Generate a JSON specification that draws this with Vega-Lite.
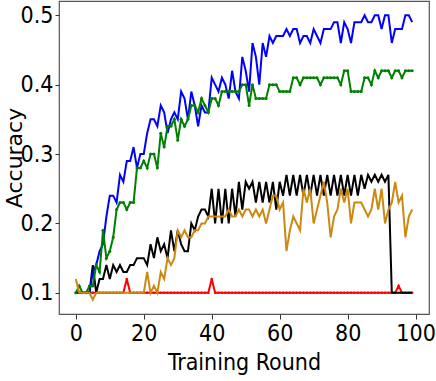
{
 "$schema": "https://vega.github.io/schema/vega-lite/v6.json",
 "width": 370, "height": 313,
 "autosize": {"type": "none"},
 "padding": {"left": 59, "top": 1, "right": 7, "bottom": 67},
 "background": "white",
 "config": {
  "view": {"stroke": "#555555", "strokeWidth": 1.2},
  "axis": {"grid": false, "domain": false, "labelFont": "DejaVu Sans Condensed", "labelFontSize": 23, "labelColor": "black", "tickColor": "#333333", "tickSize": 5, "titleFont": "DejaVu Sans Condensed", "titleFontSize": 23, "titleFontWeight": "normal", "titleColor": "black"}
 },
 "datasets": {
  "red": [{"round":0,"acc":0.10},{"round":1,"acc":0.10},{"round":2,"acc":0.10},{"round":3,"acc":0.10},{"round":4,"acc":0.10},{"round":5,"acc":0.10},{"round":6,"acc":0.10},{"round":7,"acc":0.10},{"round":8,"acc":0.10},{"round":9,"acc":0.10},{"round":10,"acc":0.10},{"round":11,"acc":0.10},{"round":12,"acc":0.10},{"round":13,"acc":0.10},{"round":14,"acc":0.10},{"round":15,"acc":0.12},{"round":16,"acc":0.10},{"round":17,"acc":0.10},{"round":18,"acc":0.10},{"round":19,"acc":0.10},{"round":20,"acc":0.10},{"round":21,"acc":0.10},{"round":22,"acc":0.10},{"round":23,"acc":0.10},{"round":24,"acc":0.10},{"round":25,"acc":0.10},{"round":26,"acc":0.10},{"round":27,"acc":0.10},{"round":28,"acc":0.10},{"round":29,"acc":0.10},{"round":30,"acc":0.10},{"round":31,"acc":0.10},{"round":32,"acc":0.10},{"round":33,"acc":0.10},{"round":34,"acc":0.10},{"round":35,"acc":0.10},{"round":36,"acc":0.10},{"round":37,"acc":0.10},{"round":38,"acc":0.10},{"round":39,"acc":0.10},{"round":40,"acc":0.12},{"round":41,"acc":0.10},{"round":42,"acc":0.10},{"round":43,"acc":0.10},{"round":44,"acc":0.10},{"round":45,"acc":0.10},{"round":46,"acc":0.10},{"round":47,"acc":0.10},{"round":48,"acc":0.10},{"round":49,"acc":0.10},{"round":50,"acc":0.10},{"round":51,"acc":0.10},{"round":52,"acc":0.10},{"round":53,"acc":0.10},{"round":54,"acc":0.10},{"round":55,"acc":0.10},{"round":56,"acc":0.10},{"round":57,"acc":0.10},{"round":58,"acc":0.10},{"round":59,"acc":0.10},{"round":60,"acc":0.10},{"round":61,"acc":0.10},{"round":62,"acc":0.10},{"round":63,"acc":0.10},{"round":64,"acc":0.10},{"round":65,"acc":0.10},{"round":66,"acc":0.10},{"round":67,"acc":0.10},{"round":68,"acc":0.10},{"round":69,"acc":0.10},{"round":70,"acc":0.10},{"round":71,"acc":0.10},{"round":72,"acc":0.10},{"round":73,"acc":0.10},{"round":74,"acc":0.10},{"round":75,"acc":0.10},{"round":76,"acc":0.10},{"round":77,"acc":0.10},{"round":78,"acc":0.10},{"round":79,"acc":0.10},{"round":80,"acc":0.10},{"round":81,"acc":0.10},{"round":82,"acc":0.10},{"round":83,"acc":0.10},{"round":84,"acc":0.10},{"round":85,"acc":0.10},{"round":86,"acc":0.10},{"round":87,"acc":0.10},{"round":88,"acc":0.10},{"round":89,"acc":0.10},{"round":90,"acc":0.10},{"round":91,"acc":0.10},{"round":92,"acc":0.10},{"round":93,"acc":0.10},{"round":94,"acc":0.10},{"round":95,"acc":0.11},{"round":96,"acc":0.10},{"round":97,"acc":0.10},{"round":98,"acc":0.10},{"round":99,"acc":0.10}],
  "black": [{"round":0,"acc":0.10},{"round":1,"acc":0.10},{"round":2,"acc":0.10},{"round":3,"acc":0.10},{"round":4,"acc":0.10},{"round":5,"acc":0.14},{"round":6,"acc":0.10},{"round":7,"acc":0.12},{"round":8,"acc":0.12},{"round":9,"acc":0.14},{"round":10,"acc":0.12},{"round":11,"acc":0.14},{"round":12,"acc":0.13},{"round":13,"acc":0.14},{"round":14,"acc":0.13},{"round":15,"acc":0.13},{"round":16,"acc":0.14},{"round":17,"acc":0.14},{"round":18,"acc":0.15},{"round":19,"acc":0.15},{"round":20,"acc":0.15},{"round":21,"acc":0.14},{"round":22,"acc":0.17},{"round":23,"acc":0.15},{"round":24,"acc":0.18},{"round":25,"acc":0.16},{"round":26,"acc":0.17},{"round":27,"acc":0.15},{"round":28,"acc":0.19},{"round":29,"acc":0.16},{"round":30,"acc":0.19},{"round":31,"acc":0.17},{"round":32,"acc":0.16},{"round":33,"acc":0.16},{"round":34,"acc":0.20},{"round":35,"acc":0.19},{"round":36,"acc":0.21},{"round":37,"acc":0.22},{"round":38,"acc":0.22},{"round":39,"acc":0.21},{"round":40,"acc":0.25},{"round":41,"acc":0.20},{"round":42,"acc":0.25},{"round":43,"acc":0.20},{"round":44,"acc":0.25},{"round":45,"acc":0.20},{"round":46,"acc":0.25},{"round":47,"acc":0.21},{"round":48,"acc":0.26},{"round":49,"acc":0.22},{"round":50,"acc":0.26},{"round":51,"acc":0.25},{"round":52,"acc":0.26},{"round":53,"acc":0.23},{"round":54,"acc":0.26},{"round":55,"acc":0.23},{"round":56,"acc":0.26},{"round":57,"acc":0.23},{"round":58,"acc":0.26},{"round":59,"acc":0.22},{"round":60,"acc":0.26},{"round":61,"acc":0.24},{"round":62,"acc":0.27},{"round":63,"acc":0.24},{"round":64,"acc":0.27},{"round":65,"acc":0.24},{"round":66,"acc":0.27},{"round":67,"acc":0.24},{"round":68,"acc":0.27},{"round":69,"acc":0.24},{"round":70,"acc":0.27},{"round":71,"acc":0.24},{"round":72,"acc":0.27},{"round":73,"acc":0.24},{"round":74,"acc":0.27},{"round":75,"acc":0.24},{"round":76,"acc":0.27},{"round":77,"acc":0.24},{"round":78,"acc":0.27},{"round":79,"acc":0.24},{"round":80,"acc":0.27},{"round":81,"acc":0.24},{"round":82,"acc":0.27},{"round":83,"acc":0.24},{"round":84,"acc":0.27},{"round":85,"acc":0.25},{"round":86,"acc":0.27},{"round":87,"acc":0.26},{"round":88,"acc":0.27},{"round":89,"acc":0.26},{"round":90,"acc":0.27},{"round":91,"acc":0.26},{"round":92,"acc":0.27},{"round":93,"acc":0.10},{"round":94,"acc":0.10},{"round":95,"acc":0.10},{"round":96,"acc":0.10},{"round":97,"acc":0.10},{"round":98,"acc":0.10},{"round":99,"acc":0.10}],
  "blue": [{"round":0,"acc":0.10},{"round":1,"acc":0.10},{"round":2,"acc":0.10},{"round":3,"acc":0.10},{"round":4,"acc":0.10},{"round":5,"acc":0.13},{"round":6,"acc":0.14},{"round":7,"acc":0.16},{"round":8,"acc":0.17},{"round":9,"acc":0.21},{"round":10,"acc":0.24},{"round":11,"acc":0.24},{"round":12,"acc":0.23},{"round":13,"acc":0.27},{"round":14,"acc":0.26},{"round":15,"acc":0.29},{"round":16,"acc":0.29},{"round":17,"acc":0.31},{"round":18,"acc":0.28},{"round":19,"acc":0.30},{"round":20,"acc":0.30},{"round":21,"acc":0.33},{"round":22,"acc":0.35},{"round":23,"acc":0.35},{"round":24,"acc":0.34},{"round":25,"acc":0.37},{"round":26,"acc":0.36},{"round":27,"acc":0.33},{"round":28,"acc":0.35},{"round":29,"acc":0.36},{"round":30,"acc":0.35},{"round":31,"acc":0.39},{"round":32,"acc":0.38},{"round":33,"acc":0.35},{"round":34,"acc":0.39},{"round":35,"acc":0.37},{"round":36,"acc":0.34},{"round":37,"acc":0.37},{"round":38,"acc":0.36},{"round":39,"acc":0.36},{"round":40,"acc":0.41},{"round":41,"acc":0.40},{"round":42,"acc":0.39},{"round":43,"acc":0.41},{"round":44,"acc":0.40},{"round":45,"acc":0.38},{"round":46,"acc":0.42},{"round":47,"acc":0.39},{"round":48,"acc":0.38},{"round":49,"acc":0.44},{"round":50,"acc":0.42},{"round":51,"acc":0.39},{"round":52,"acc":0.46},{"round":53,"acc":0.44},{"round":54,"acc":0.40},{"round":55,"acc":0.46},{"round":56,"acc":0.44},{"round":57,"acc":0.47},{"round":58,"acc":0.46},{"round":59,"acc":0.47},{"round":60,"acc":0.47},{"round":61,"acc":0.47},{"round":62,"acc":0.48},{"round":63,"acc":0.47},{"round":64,"acc":0.48},{"round":65,"acc":0.48},{"round":66,"acc":0.46},{"round":67,"acc":0.47},{"round":68,"acc":0.47},{"round":69,"acc":0.46},{"round":70,"acc":0.48},{"round":71,"acc":0.47},{"round":72,"acc":0.46},{"round":73,"acc":0.48},{"round":74,"acc":0.48},{"round":75,"acc":0.48},{"round":76,"acc":0.49},{"round":77,"acc":0.49},{"round":78,"acc":0.46},{"round":79,"acc":0.49},{"round":80,"acc":0.48},{"round":81,"acc":0.46},{"round":82,"acc":0.49},{"round":83,"acc":0.49},{"round":84,"acc":0.49},{"round":85,"acc":0.50},{"round":86,"acc":0.49},{"round":87,"acc":0.49},{"round":88,"acc":0.50},{"round":89,"acc":0.50},{"round":90,"acc":0.48},{"round":91,"acc":0.50},{"round":92,"acc":0.50},{"round":93,"acc":0.46},{"round":94,"acc":0.48},{"round":95,"acc":0.48},{"round":96,"acc":0.48},{"round":97,"acc":0.50},{"round":98,"acc":0.50},{"round":99,"acc":0.49}],
  "green": [{"round":0,"acc":0.10},{"round":1,"acc":0.11},{"round":2,"acc":0.10},{"round":3,"acc":0.10},{"round":4,"acc":0.11},{"round":5,"acc":0.11},{"round":6,"acc":0.14},{"round":7,"acc":0.13},{"round":8,"acc":0.19},{"round":9,"acc":0.15},{"round":10,"acc":0.16},{"round":11,"acc":0.18},{"round":12,"acc":0.22},{"round":13,"acc":0.23},{"round":14,"acc":0.23},{"round":15,"acc":0.22},{"round":16,"acc":0.23},{"round":17,"acc":0.23},{"round":18,"acc":0.28},{"round":19,"acc":0.28},{"round":20,"acc":0.29},{"round":21,"acc":0.28},{"round":22,"acc":0.30},{"round":23,"acc":0.30},{"round":24,"acc":0.28},{"round":25,"acc":0.33},{"round":26,"acc":0.31},{"round":27,"acc":0.34},{"round":28,"acc":0.34},{"round":29,"acc":0.35},{"round":30,"acc":0.32},{"round":31,"acc":0.35},{"round":32,"acc":0.34},{"round":33,"acc":0.35},{"round":34,"acc":0.37},{"round":35,"acc":0.37},{"round":36,"acc":0.36},{"round":37,"acc":0.38},{"round":38,"acc":0.37},{"round":39,"acc":0.36},{"round":40,"acc":0.38},{"round":41,"acc":0.38},{"round":42,"acc":0.37},{"round":43,"acc":0.39},{"round":44,"acc":0.39},{"round":45,"acc":0.39},{"round":46,"acc":0.39},{"round":47,"acc":0.39},{"round":48,"acc":0.39},{"round":49,"acc":0.40},{"round":50,"acc":0.40},{"round":51,"acc":0.37},{"round":52,"acc":0.40},{"round":53,"acc":0.38},{"round":54,"acc":0.38},{"round":55,"acc":0.38},{"round":56,"acc":0.38},{"round":57,"acc":0.40},{"round":58,"acc":0.40},{"round":59,"acc":0.40},{"round":60,"acc":0.39},{"round":61,"acc":0.39},{"round":62,"acc":0.39},{"round":63,"acc":0.39},{"round":64,"acc":0.41},{"round":65,"acc":0.41},{"round":66,"acc":0.40},{"round":67,"acc":0.41},{"round":68,"acc":0.41},{"round":69,"acc":0.41},{"round":70,"acc":0.41},{"round":71,"acc":0.41},{"round":72,"acc":0.40},{"round":73,"acc":0.41},{"round":74,"acc":0.41},{"round":75,"acc":0.41},{"round":76,"acc":0.41},{"round":77,"acc":0.41},{"round":78,"acc":0.40},{"round":79,"acc":0.42},{"round":80,"acc":0.42},{"round":81,"acc":0.39},{"round":82,"acc":0.39},{"round":83,"acc":0.39},{"round":84,"acc":0.39},{"round":85,"acc":0.41},{"round":86,"acc":0.41},{"round":87,"acc":0.40},{"round":88,"acc":0.42},{"round":89,"acc":0.41},{"round":90,"acc":0.42},{"round":91,"acc":0.42},{"round":92,"acc":0.42},{"round":93,"acc":0.41},{"round":94,"acc":0.42},{"round":95,"acc":0.42},{"round":96,"acc":0.41},{"round":97,"acc":0.42},{"round":98,"acc":0.42},{"round":99,"acc":0.42}],
  "orange": [{"round":0,"acc":0.12},{"round":1,"acc":0.10},{"round":2,"acc":0.10},{"round":3,"acc":0.10},{"round":4,"acc":0.10},{"round":5,"acc":0.09},{"round":6,"acc":0.10},{"round":7,"acc":0.10},{"round":8,"acc":0.10},{"round":9,"acc":0.10},{"round":10,"acc":0.10},{"round":11,"acc":0.10},{"round":12,"acc":0.10},{"round":13,"acc":0.10},{"round":14,"acc":0.10},{"round":15,"acc":0.10},{"round":16,"acc":0.10},{"round":17,"acc":0.10},{"round":18,"acc":0.10},{"round":19,"acc":0.10},{"round":20,"acc":0.10},{"round":21,"acc":0.13},{"round":22,"acc":0.10},{"round":23,"acc":0.11},{"round":24,"acc":0.10},{"round":25,"acc":0.13},{"round":26,"acc":0.12},{"round":27,"acc":0.15},{"round":28,"acc":0.14},{"round":29,"acc":0.15},{"round":30,"acc":0.19},{"round":31,"acc":0.18},{"round":32,"acc":0.19},{"round":33,"acc":0.18},{"round":34,"acc":0.18},{"round":35,"acc":0.19},{"round":36,"acc":0.19},{"round":37,"acc":0.20},{"round":38,"acc":0.20},{"round":39,"acc":0.21},{"round":40,"acc":0.21},{"round":41,"acc":0.21},{"round":42,"acc":0.21},{"round":43,"acc":0.21},{"round":44,"acc":0.21},{"round":45,"acc":0.22},{"round":46,"acc":0.21},{"round":47,"acc":0.21},{"round":48,"acc":0.22},{"round":49,"acc":0.21},{"round":50,"acc":0.22},{"round":51,"acc":0.22},{"round":52,"acc":0.21},{"round":53,"acc":0.22},{"round":54,"acc":0.21},{"round":55,"acc":0.22},{"round":56,"acc":0.20},{"round":57,"acc":0.22},{"round":58,"acc":0.24},{"round":59,"acc":0.24},{"round":60,"acc":0.22},{"round":61,"acc":0.23},{"round":62,"acc":0.16},{"round":63,"acc":0.19},{"round":64,"acc":0.21},{"round":65,"acc":0.20},{"round":66,"acc":0.19},{"round":67,"acc":0.25},{"round":68,"acc":0.23},{"round":69,"acc":0.25},{"round":70,"acc":0.20},{"round":71,"acc":0.22},{"round":72,"acc":0.24},{"round":73,"acc":0.26},{"round":74,"acc":0.23},{"round":75,"acc":0.18},{"round":76,"acc":0.21},{"round":77,"acc":0.22},{"round":78,"acc":0.25},{"round":79,"acc":0.23},{"round":80,"acc":0.25},{"round":81,"acc":0.20},{"round":82,"acc":0.23},{"round":83,"acc":0.23},{"round":84,"acc":0.23},{"round":85,"acc":0.22},{"round":86,"acc":0.21},{"round":87,"acc":0.22},{"round":88,"acc":0.25},{"round":89,"acc":0.22},{"round":90,"acc":0.25},{"round":91,"acc":0.20},{"round":92,"acc":0.22},{"round":93,"acc":0.23},{"round":94,"acc":0.26},{"round":95,"acc":0.23},{"round":96,"acc":0.24},{"round":97,"acc":0.18},{"round":98,"acc":0.21},{"round":99,"acc":0.22}]
 },
 "encoding": {
  "x": {"field": "round", "type": "quantitative", "scale": {"domain": [-4.95, 103.95], "nice": false, "zero": false}, "axis": {"values": [0, 20, 40, 60, 80, 100], "title": "Training Round", "labelPadding": 3, "titlePadding": 6, "labelFlush": false}},
  "y": {"field": "acc", "type": "quantitative", "scale": {"domain": [0.0695, 0.5205], "nice": false, "zero": false}, "axis": {"values": [0.1, 0.2, 0.3, 0.4, 0.5], "format": ".1f", "title": "Accuracy", "titleFont": "DejaVu Sans", "titleFontSize": 22, "titleX": -38, "titleBaseline": "alphabetic", "labelPadding": 2, "tickSize": 4}}
 },
 "layer": [
  {"data": {"name": "red"}, "mark": {"type": "line", "color": "#ff0000", "strokeWidth": 2}},
  {"data": {"name": "red"}, "mark": {"type": "point", "color": "#ff0000", "filled": true, "size": 6, "opacity": 1}},
  {"data": {"name": "black"}, "mark": {"type": "line", "color": "#000000", "strokeWidth": 2}},
  {"data": {"name": "blue"}, "mark": {"type": "line", "color": "#0000ff", "strokeWidth": 2}},
  {"data": {"name": "green"}, "mark": {"type": "line", "color": "#008000", "strokeWidth": 2}},
  {"data": {"name": "green"}, "mark": {"type": "point", "color": "#008000", "filled": true, "size": 9, "opacity": 1}},
  {"data": {"name": "orange"}, "mark": {"type": "line", "color": "#cc8811", "strokeWidth": 2}}
 ]
}
